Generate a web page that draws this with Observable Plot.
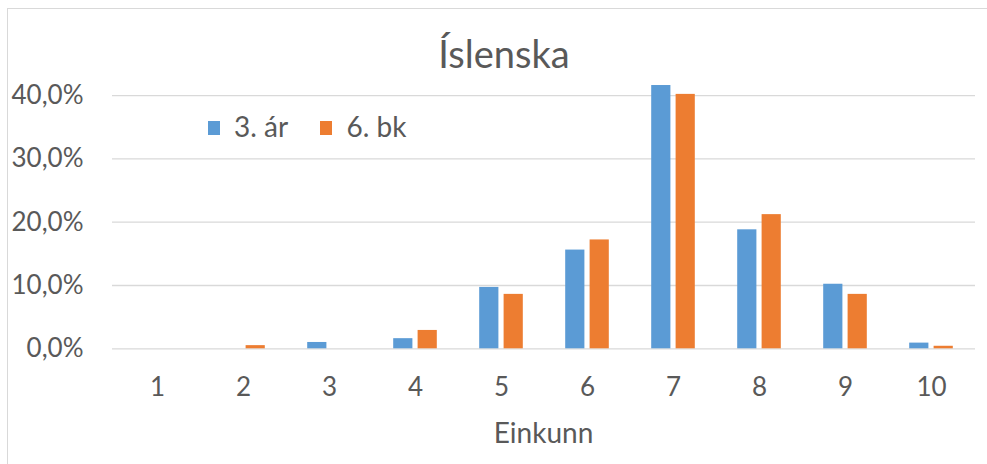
<!DOCTYPE html>
<html>
<head>
<meta charset="utf-8">
<script src="https://cdn.jsdelivr.net/npm/d3@7"></script>
<script src="https://cdn.jsdelivr.net/npm/@observablehq/plot@0.6"></script>
<style>
  html, body { margin: 0; padding: 0; background: #fff; }
  #chart { position: relative; width: 987px; height: 464px; overflow: hidden; font-family: Lato, sans-serif; color: #595959; }
  #frame { position: absolute; left: 7px; top: 8px; width: 990px; height: 470px; border: 1.3px solid #d9d9d9; box-sizing: border-box; }
  #plot { position: absolute; left: 0; top: 0; }
  .title { position: absolute; left: 0; width: 1008px; top: 34px; text-align: center; font-size: 38px; line-height: 1; white-space: nowrap; }
  .xlabel { position: absolute; left: 0; width: 1087px; top: 418px; text-align: center; font-size: 28px; line-height: 1; white-space: nowrap; }
  .legend { position: absolute; top: 112px; font-size: 28px; line-height: 1; white-space: nowrap; }
  .sw { position: absolute; width: 11.5px; height: 14px; top: 121px; }
</style>
</head>
<body>
<div id="chart">
  <div id="frame"></div>
  <div id="plot"></div>
  <div class="title" id="title"></div>
  <div id="legend"></div>
  <div class="xlabel" id="xlabel"></div>
</div>
<script>
// ---- data ----
const titleText = "Íslenska";
const xLabel = "Einkunn";
const grades = [1, 2, 3, 4, 5, 6, 7, 8, 9, 10];
const seriesNames = ["3. ár", "6. bk"];
const ar3 = [0, 0, 1.0, 1.6, 9.7, 15.6, 41.6, 18.8, 10.2, 0.9];
const bk6 = [0, 0.5, 0, 2.9, 8.6, 17.2, 40.2, 21.2, 8.6, 0.4];
const yTicks = [0, 10, 20, 30, 40];
const colors = ["#5b9bd5", "#ed7d31"];

const seriesValues = [ar3, bk6];
const rows = [];
seriesNames.forEach((s, si) => grades.forEach((g, gi) => rows.push({grade: g, series: s, value: seriesValues[si][gi]})));

const fmt = d => d.toFixed(1).replace(".", ",") + "%";

const plot = Plot.plot({
  width: 987,
  height: 464,
  marginLeft: 112,
  marginRight: 12,
  marginTop: 63.5,
  marginBottom: 115.7,
  style: { fontFamily: "Lato, sans-serif", fontSize: "26px", color: "#595959", background: "transparent", overflow: "visible" },
  x: { domain: grades, padding: 0, tickSize: 0, tickPadding: 29, label: null },
  y: { domain: [0, 45], ticks: yTicks, tickFormat: fmt, tickSize: 0, tickPadding: 29, label: null },
  color: { domain: seriesNames, range: colors },
  marks: [
    Plot.ruleY(yTicks, { stroke: "#d9d9d9", strokeWidth: 1.3 }),
    Plot.barY(rows.filter(d => d.series === seriesNames[0]), { x: "grade", y: "value", fill: "series", insetLeft: 21.2, insetRight: 45.6 }),
    Plot.barY(rows.filter(d => d.series === seriesNames[1]), { x: "grade", y: "value", fill: "series", insetLeft: 45.6, insetRight: 21.2 })
  ]
});
document.getElementById("plot").appendChild(plot);

document.getElementById("title").textContent = titleText;
document.getElementById("xlabel").textContent = xLabel;

const legendX = [208, 320];
const legendTextX = [234, 346.5];
const leg = document.getElementById("legend");
seriesNames.forEach((s, i) => {
  const sw = document.createElement("div");
  sw.className = "sw";
  sw.style.left = legendX[i] + "px";
  sw.style.background = colors[i];
  leg.appendChild(sw);
  const t = document.createElement("div");
  t.className = "legend";
  t.style.left = legendTextX[i] + "px";
  t.textContent = s;
  leg.appendChild(t);
});
</script>
</body>
</html>
